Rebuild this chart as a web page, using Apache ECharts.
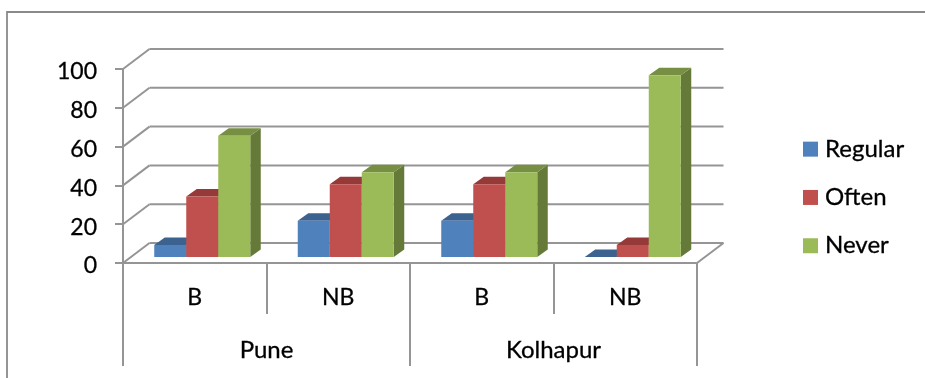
<!DOCTYPE html>
<html>
<head>
<meta charset="utf-8">
<style>html,body{margin:0;padding:0;background:#fff}#chart{width:925px;height:378px}</style>
<script src="https://cdn.jsdelivr.net/npm/echarts@6/dist/echarts.min.js"></script>
</head>
<body>
<div id="chart"></div>
<script>
// Survey responses per city and group
const groupLabels = ['B', 'NB', 'B', 'NB'];
const cityLabels = ['Pune', 'Kolhapur'];
const regular = [6.25, 18.75, 18.75, 0];
const often = [31.25, 37.5, 37.5, 6.25];
const never = [62.5, 43.75, 43.75, 93.75];
const ticks = [0, 20, 40, 60, 80, 100];

const FONT = 'Lato, "Open Sans", sans-serif';
const GRID_COLOR = '#959595';
const GRID_WIDTH = 2;
const WALL = { dx: 26.5, dy: -20 };     // offset from the front plane to the back wall
const PLANE = { dx: 7.5, dy: -6 };      // where the bars stand on the floor
const BAR = { width: 32, dx: 10.5, dy: -7.5 };
const TEXT = { color: '#000', fontFamily: FONT, textBorderColor: '#000', textBorderWidth: 0.3 };

const chart = echarts.init(document.getElementById('chart'));

// Back wall gridlines and the slanted lines joining them to the value axis
function renderWall(params, api) {
  const v = api.value(0);
  const band = api.size([1, 0])[0];
  const left = api.coord([0, v])[0] - band / 2;
  const right = api.coord([groupLabels.length - 1, v])[0] + band / 2;
  const y = api.coord([0, v])[1];
  const style = { stroke: GRID_COLOR, lineWidth: GRID_WIDTH, fill: null };
  const line = (x1, y1, x2, y2) => ({ type: 'line', shape: { x1, y1, x2, y2 }, style });
  const children = [
    line(left, y, left + WALL.dx, y + WALL.dy),
    line(left + WALL.dx, y + WALL.dy, right + WALL.dx, y + WALL.dy)
  ];
  if (v === 0) children.push(line(right, y, right + WALL.dx, y + WALL.dy));
  return { type: 'group', children };
}

// One extruded bar: front face, top face and right side face
function barRenderer(slot, color, topColor, sideColor) {
  return function (params, api) {
    const cat = api.value(0);
    const base = api.coord([cat, 0]);
    const tip = api.coord([cat, api.value(1)]);
    const x0 = base[0] + PLANE.dx + (slot - 1.5) * BAR.width;
    const x1 = x0 + BAR.width;
    const yb = base[1] + PLANE.dy;
    const yt = tip[1] + PLANE.dy;
    const poly = (points, fill) => ({ type: 'polygon', shape: { points }, style: { fill } });
    const children = [
      poly([[x1, yt], [x1 + BAR.dx, yt + BAR.dy], [x1 + BAR.dx, yb + BAR.dy], [x1, yb]], sideColor),
      poly([[x0, yt], [x0 + BAR.dx, yt + BAR.dy], [x1 + BAR.dx, yt + BAR.dy], [x1, yt]], topColor)
    ];
    if (yb - yt > 0) children.push({ type: 'rect', shape: { x: x0, y: yt, width: BAR.width, height: yb - yt }, style: { fill: color } });
    return { type: 'group', children };
  };
}

function barSeries(name, values, slot, color, topColor, sideColor) {
  return {
    type: 'custom', name, xAxisIndex: 0, yAxisIndex: 0, clip: false, z: 3 + slot,
    itemStyle: { color },
    encode: { x: 0, y: 1 },
    data: values.map((v, i) => [i, v]),
    renderItem: barRenderer(slot, color, topColor, sideColor)
  };
}

chart.setOption({
  animation: false,
  backgroundColor: '#fff',
  textStyle: { fontFamily: FONT },
  grid: { left: 123, right: 228, top: 69, bottom: 115 },
  xAxis: [
    {
      type: 'category', position: 'bottom', data: groupLabels, boundaryGap: true,
      axisLine: { show: true, lineStyle: { color: GRID_COLOR, width: GRID_WIDTH } },
      axisTick: { show: true, length: 51, lineStyle: { color: GRID_COLOR, width: GRID_WIDTH } },
      axisLabel: { margin: 23, fontSize: 23, interval: 0, ...TEXT }
    },
    {
      type: 'category', position: 'bottom', data: cityLabels, boundaryGap: true,
      axisLine: { show: false },
      axisTick: { show: true, length: 103, lineStyle: { color: GRID_COLOR, width: GRID_WIDTH } },
      axisLabel: { margin: 75, fontSize: 24, interval: 0, ...TEXT }
    }
  ],
  yAxis: {
    type: 'value', min: 0, max: 100, interval: 20,
    axisLine: { show: true, lineStyle: { color: GRID_COLOR, width: GRID_WIDTH } },
    axisTick: { show: true, length: 8, lineStyle: { color: GRID_COLOR, width: GRID_WIDTH } },
    axisLabel: { margin: 26, fontSize: 23, verticalAlign: 'top', lineHeight: 6, ...TEXT },
    splitLine: { show: false }
  },
  legend: {
    data: ['Regular', 'Often', 'Never'],
    orient: 'vertical', left: 798, top: 132,
    icon: 'rect', itemWidth: 15, itemHeight: 15, itemGap: 24,
    textStyle: { fontSize: 24, padding: [0, 0, 0, 2], ...TEXT }
  },
  graphic: [
    { type: 'polyline', z: 1, shape: { points: [[7, 378], [7, 12], [925, 12]] }, style: { stroke: '#8a8a8a', lineWidth: 1.8, fill: null } }
  ],
  series: [
    {
      type: 'custom', name: 'wall', xAxisIndex: 0, yAxisIndex: 0, clip: false, z: 1,
      silent: true, encode: { y: 0 },
      data: ticks.map(v => [v]),
      renderItem: renderWall
    },
    barSeries('Regular', regular, 0, '#4F81BD', '#3C6390', '#3C6390'),
    barSeries('Often', often, 1, '#C0504D', '#953A38', '#953A38'),
    barSeries('Never', never, 2, '#9BBB59', '#778F43', '#657A39')
  ]
});
</script>
</body>
</html>
